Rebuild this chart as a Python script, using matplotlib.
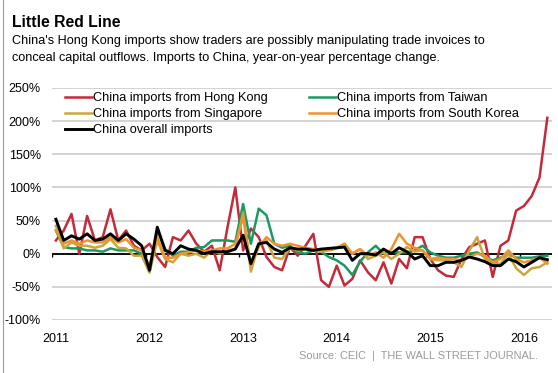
import numpy as np
import matplotlib
matplotlib.use('Agg')
import matplotlib.pyplot as plt

# Monthly, Jan 2011 - Apr 2016, year-on-year % change
years = ['2011', '2012', '2013', '2014', '2015', '2016']

hong_kong = [20, 35, 60, 0, 57, 20, 25, 67, 20, 35, 12, 5,
             15, -5, -20, 25, 20, 35, 15, 3, 12, -25, 40, 100,
             5, 38, 25, -5, -20, -25, 10, -3, 12, 30, -40, -50,
             -18, -48, -38, -10, -28, -40, -13, -45, -8, -22, 25, 25,
             -8, -25, -33, -35, -8, 10, 15, 20, -35, 12, 20, 65,
             72, 87, 115, 205]

taiwan = [35, 10, 8, 8, 5, 5, 3, 8, 5, 5, 5, 0,
          -28, 35, 7, -3, 3, 3, 9, 10, 20, 20, 20, 18,
          75, 15, 68, 58, 15, 9, 12, 2, 0, 5, 3, -5,
          -10, -18, -32, -12, 2, 12, 0, 2, 2, 2, 5, 12,
          2, -3, -6, -6, -3, 0, 2, -5, -10, -6, 0, -6,
          -6, -6, -4, -3]

singapore = [42, 8, 17, 12, 12, 9, 12, 22, 9, 8, -3, -3,
             -28, 20, -8, -13, 0, -3, 0, -6, 5, 0, 5, 7,
             62, -27, 15, 20, -6, -8, 9, 5, 7, 5, 3, 5,
             8, 15, 0, 7, -8, -3, 2, -8, 0, 10, 3, 5,
             -8, -10, -10, -13, -20, 5, 25, -8, -15, -15, 0, -22,
             -32, -22, -20, -13]

south_korea = [35, 15, 20, 15, 20, 17, 17, 25, 17, 22, 9, 5,
               -18, 25, -6, -6, 0, 2, 5, 3, 5, 8, 8, 15,
               55, -18, 10, 25, 15, 12, 15, 12, 9, 7, 5, 7,
               9, 15, 0, 7, -3, 2, -6, 7, 30, 15, 9, 5,
               -8, -6, -8, -8, -10, -5, 0, -3, -13, -8, 5, -8,
               -13, -10, -6, -15]

overall = [52, 20, 27, 22, 30, 20, 22, 30, 20, 30, 22, 12,
           -25, 40, 5, 0, 12, 7, 5, 0, 3, 3, 3, 7,
           28, -15, 15, 17, 7, 2, 9, 7, 7, 5, 7, 8,
           9, 10, -10, 0, 0, -2, 7, 0, 9, 3, -8, -3,
           -18, -18, -13, -13, -10, -5, -8, -12, -18, -18, -8, -12,
           -20, -13, -6, -9]

months = np.arange(len(hong_kong))
year_idx = np.arange(len(years)) * 12

plt.rcParams['font.family'] = ['Liberation Sans', 'DejaVu Sans']

fig = plt.figure(figsize=(5.58, 3.73), dpi=100)
W, H = 558, 373
ax = fig.add_axes([52 / W, 53 / H, 500 / W, 232 / H])

for s in ax.spines.values():
    s.set_visible(False)

ax.set_ylim(-100, 250)
ax.set_xlim(-0.5, 63.6)
ax.set_yticks(np.arange(-100, 251, 50))
ax.set_yticklabels([f'{v}%' for v in range(-100, 251, 50)], fontsize=9)
ax.grid(axis='y', color='#c8c8c8', lw=1.1)
ax.set_axisbelow(True)
ax.tick_params(axis='y', length=0, pad=8)
ax.set_xticks(year_idx)
ax.set_xticklabels(years, fontsize=9)
ax.tick_params(axis='x', length=0, pad=9)

ax.axhline(0, color='black', lw=1.3, zorder=2)
ax.vlines(year_idx - 0.5, -5, 0, color='black', lw=1)

lw = 1.8
l_hk, = ax.plot(months, hong_kong, color='#c42a3a', lw=lw, label='China imports from Hong Kong', zorder=3)
l_tw, = ax.plot(months, taiwan, color='#1a9a62', lw=lw, label='China imports from Taiwan', zorder=3)
l_sg, = ax.plot(months, singapore, color='#c8a83c', lw=lw, label='China imports from Singapore', zorder=4)
l_kr, = ax.plot(months, south_korea, color='#ef9330', lw=lw, label='China imports from South Korea', zorder=4)
l_all, = ax.plot(months, overall, color='black', lw=2.1, label='China overall imports', zorder=5)

fig.legend(handles=[l_hk, l_sg, l_all, l_tw, l_kr], ncol=2, loc='upper left',
           bbox_to_anchor=(65 / W, 1 - 92 / H), frameon=False, fontsize=9.2,
           handlelength=2.1, handletextpad=0.1, columnspacing=3.2,
           labelspacing=0.32, borderpad=0, borderaxespad=0)

fig.text(12 / W, 1 - 27 / H, 'Little Red Line', fontsize=11.3, fontweight='bold', va='baseline')
fig.text(12 / W, 1 - 44 / H, "China's Hong Kong imports show traders are possibly manipulating trade invoices to",
         fontsize=9.1, va='baseline')
fig.text(12 / W, 1 - 61 / H, 'conceal capital outflows. Imports to China, year-on-year percentage change.',
         fontsize=9.1, va='baseline')
fig.text(538 / W, 1 - 359 / H, 'Source: CEIC  |  THE WALL STREET JOURNAL.', fontsize=7.9,
         color='#9a9a9a', ha='right', va='baseline')

fig.add_artist(plt.Line2D([2.5 / W, 2.5 / W], [0, 1], color='#9a9a9a', lw=0.8))

fig.savefig('out.png', dpi=100)
